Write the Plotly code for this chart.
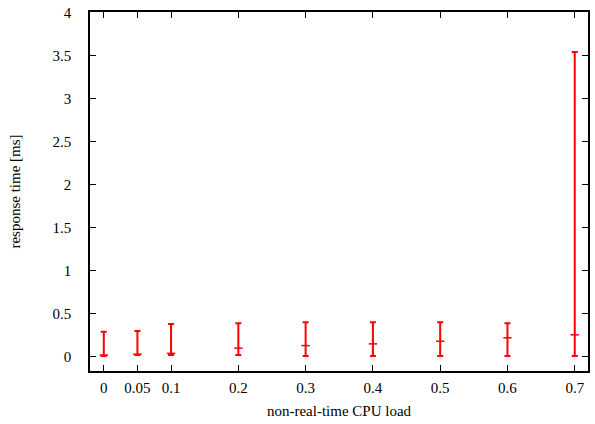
import plotly.graph_objects as go

load = [0, 0.05, 0.1, 0.2, 0.3, 0.4, 0.5, 0.6, 0.7]
mean = [0.02, 0.03, 0.04, 0.10, 0.13, 0.15, 0.18, 0.22, 0.255]
low = [0.01, 0.02, 0.02, 0.02, 0.01, 0.01, 0.01, 0.01, 0.01]
high = [0.29, 0.30, 0.38, 0.39, 0.40, 0.40, 0.40, 0.39, 3.54]

xticks = [0, 0.05, 0.1, 0.2, 0.3, 0.4, 0.5, 0.6, 0.7]
xticklabels = ["0", "0.05", "0.1", "0.2", "0.3", "0.4", "0.5", "0.6", "0.7"]
yticks = [0, 0.5, 1, 1.5, 2, 2.5, 3, 3.5, 4]
yticklabels = ["0", "0.5", "1", "1.5", "2", "2.5", "3", "3.5", "4"]

plus = [h - m for h, m in zip(high, mean)]
minus = [m - l for m, l in zip(mean, low)]

fig = go.Figure()
fig.add_trace(go.Scatter(
    x=load, y=mean, mode="markers",
    marker=dict(symbol="line-ew", size=6, color="red", line=dict(color="red", width=1.5)),
    error_y=dict(type="data", array=plus, arrayminus=minus, symmetric=False,
                 color="red", thickness=2, width=3),
    showlegend=False,
))

font = dict(family="Liberation Serif", size=15, color="black")
fig.update_layout(
    width=595, height=424,
    margin=dict(l=90, r=5, t=11, b=53),
    paper_bgcolor="white", plot_bgcolor="white",
    font=font,
    xaxis=dict(range=[-0.0205, 0.7197], tickvals=xticks, ticktext=xticklabels,
               ticks="inside", ticklen=6, tickcolor="black", showgrid=False, zeroline=False,
               showline=True, linecolor="black", linewidth=1.5, mirror="ticks",
               tickfont=font, ticklabelstandoff=2,
               title=dict(text="non-real-time CPU load", standoff=11, font=font)),
    yaxis=dict(range=[-0.165, 4.003], tickvals=yticks, ticktext=yticklabels,
               ticks="inside", ticklen=6, tickcolor="black", showgrid=False, zeroline=False,
               showline=True, linecolor="black", linewidth=1.5, mirror="ticks",
               tickfont=font, ticklabelstandoff=14,
               title=dict(text="response time [ms]", standoff=28, font=font)),
)
fig.write_html("out.html", config={"displayModeBar": False},
               post_script="document.body.style.margin='0';")
